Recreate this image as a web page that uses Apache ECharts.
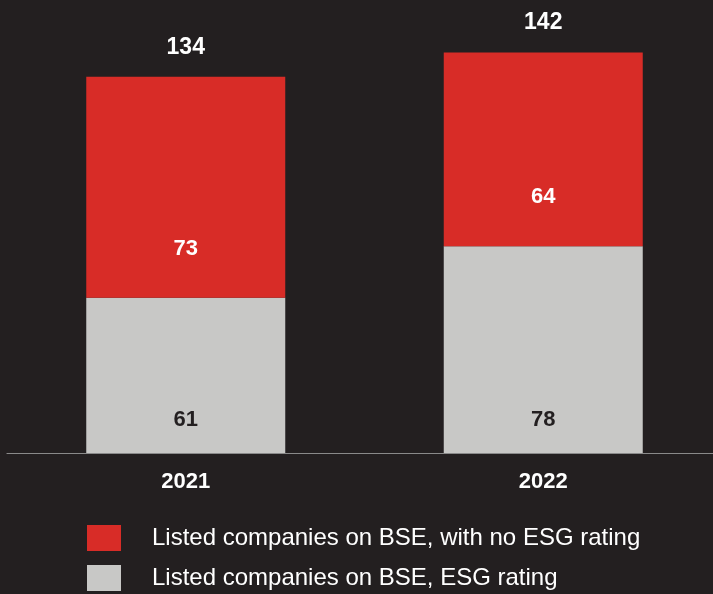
<!DOCTYPE html>
<html>
<head>
<meta charset="utf-8">
<title>Listed companies on BSE by ESG rating</title>
<script src="https://cdn.jsdelivr.net/npm/echarts@6/dist/echarts.min.js"></script>
<style>
  html, body { margin: 0; padding: 0; background: #231f20; overflow: hidden; }
  /* canvas runs a little past the right edge so the axis line bleeds off the page */
  #chart { width: 723px; height: 594px; }
</style>
</head>
<body>
<div id="chart"></div>
<script>
// Years shown on the category axis
const years = ['2021', '2022'];
// Companies with an ESG rating (grey, bottom of stack)
const withRating = [61, 78];
// Companies without an ESG rating (red, top of stack)
const withoutRating = [73, 64];
// Stack totals printed above each column
const totals = [134, 142];

const nameNoRating = 'Listed companies on BSE, with no ESG rating';
const nameRating = 'Listed companies on BSE, ESG rating';

const FONT = "'Liberation Sans', Arial, Helvetica, sans-serif";
const RED = '#d82c27';
const GREY = '#c8c8c6';
const BG = '#231f20';

const chart = echarts.init(document.getElementById('chart'), null, { renderer: 'canvas' });

chart.setOption({
  backgroundColor: BG,
  animation: false,
  textStyle: { fontFamily: FONT },
  grid: { left: 7, top: 0, width: 715, height: 453, containLabel: false },
  legend: {
    orient: 'vertical',
    left: 87,
    top: 525,
    height: 80,
    padding: 0,
    itemWidth: 34,
    itemHeight: 26,
    itemGap: 14,
    icon: 'rect',
    selectedMode: false,
    data: [nameNoRating, nameRating],
    textStyle: {
      color: '#ffffff',
      fontSize: 24,
      fontFamily: FONT,
      lineHeight: 26,
      padding: [0, 0, 0, 26]
    }
  },
  xAxis: {
    type: 'category',
    data: years,
    axisTick: { show: false },
    axisLine: { show: true, lineStyle: { color: '#8a8a8a', width: 1.2 } },
    axisLabel: {
      color: '#ffffff',
      fontSize: 22,
      fontWeight: 'bold',
      fontFamily: FONT,
      margin: 18
    },
    splitLine: { show: false }
  },
  yAxis: {
    type: 'value',
    min: 9.8,
    max: 159.3,
    show: false,
    splitLine: { show: false }
  },
  series: [
    {
      name: nameRating,
      type: 'bar',
      stack: 'companies',
      barWidth: 199,
      data: withRating,
      itemStyle: { color: GREY },
      label: {
        show: true,
        position: 'insideBottom',
        distance: 22,
        color: BG,
        fontSize: 22,
        fontWeight: 'bold',
        fontFamily: FONT
      },
      emphasis: { disabled: true }
    },
    {
      name: nameNoRating,
      type: 'bar',
      stack: 'companies',
      barWidth: 199,
      data: withoutRating,
      itemStyle: { color: RED },
      label: {
        show: true,
        position: 'insideBottom',
        distance: 38,
        color: '#ffffff',
        fontSize: 22,
        fontWeight: 'bold',
        fontFamily: FONT
      },
      emphasis: { disabled: true }
    },
    {
      name: 'total',
      type: 'scatter',
      data: totals,
      symbolSize: 0,
      silent: true,
      itemStyle: { opacity: 1 },
      label: {
        show: true,
        position: 'top',
        distance: 18,
        color: '#ffffff',
        fontSize: 23,
        fontWeight: 'bold',
        fontFamily: FONT
      },
      emphasis: { disabled: true }
    }
  ]
});
</script>
</body>
</html>
